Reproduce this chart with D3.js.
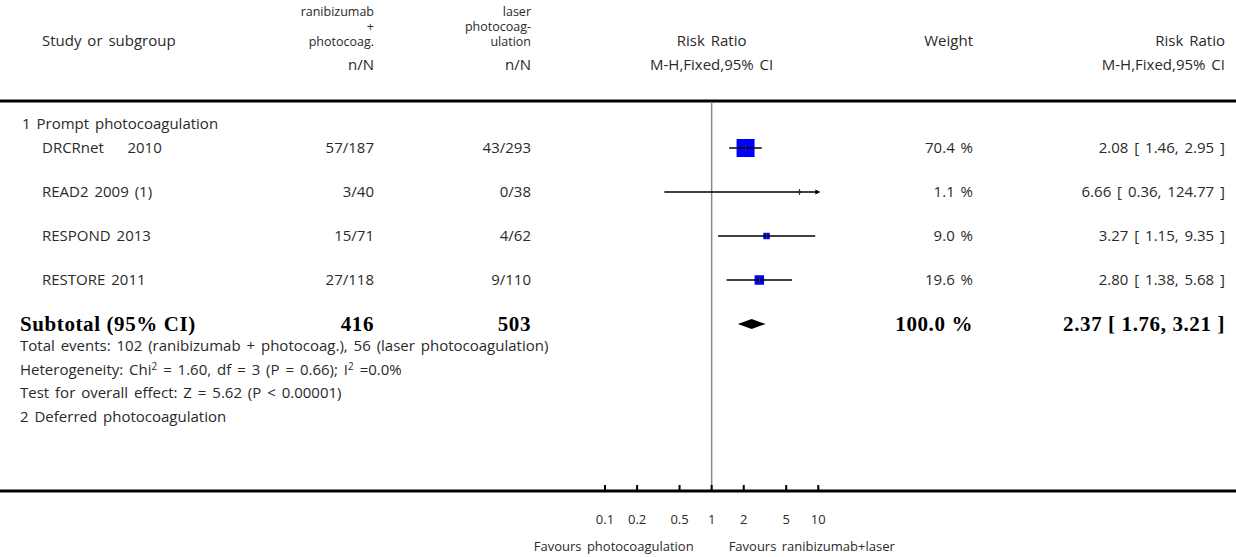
<!DOCTYPE html>
<html>
<head>
<meta charset="utf-8">
<script src="https://cdn.jsdelivr.net/npm/d3@7"></script>
<style>
  body { margin: 0; background: #fff; }
  svg { display: block; }
  text { font-family: "Open Sans", Lato, sans-serif; fill: #2a2a2a; white-space: pre; word-spacing: 2px; }
  .bold { font-family: "Liberation Serif", "Times New Roman", serif; font-weight: bold; fill: #000; letter-spacing: 0.6px; word-spacing: 0; }
</style>
</head>
<body>
<div id="plot"></div>
<script>
// forest plot data
let studies = ["DRCRnet    2010", "READ2 2009 (1)", "RESPOND 2013", "RESTORE 2011"],
    treatEvents = [57, 3, 15, 27],
    treatTotal = [187, 40, 71, 118],
    ctrlEvents = [43, 0, 4, 9],
    ctrlTotal = [293, 38, 62, 110],
    rr = [2.08, 6.66, 3.27, 2.80],
    rrLo = [1.46, 0.36, 1.15, 1.38],
    rrHi = [2.95, 124.77, 9.35, 5.68],
    weights = [70.4, 1.1, 9.0, 19.6],
    subtotal = {rr: 2.37, lo: 1.76, hi: 3.21, n1: 416, n2: 503, weight: 100.0},
    tickValues = [0.1, 0.2, 0.5, 1, 2, 5, 10],
    tickLabels = ["0.1", "0.2", "0.5", "1", "2", "5", "10"],
    treatHead = ["ranibizumab", "+", "photocoag."],
    ctrlHead = ["laser", "photocoag-", "ulation"];

let width = 1236, height = 557,
    col1 = 374, col2 = 531, weightX = 973, ciX = 1225,
    rowY = [148, 192, 236, 280],
    subY = 324,
    fs = 15;

let x = d3.scaleLog().domain([0.1, 10]).range([605, 818.3]);
let side = d3.scaleSqrt().domain([0, 70.4]).range([0, 18]);

const svg = d3.select("#plot").append("svg")
    .attr("width", width).attr("height", height);

function txt(s, xx, yy, anchor, cls, size) {
  return svg.append("text").attr("x", xx).attr("y", yy)
    .attr("text-anchor", anchor || "start")
    .attr("class", cls || null)
    .attr("font-size", size || fs)
    .text(s);
}

// header
txt("Study or subgroup", 42, 46);
treatHead.forEach((s, i) => txt(s, col1, 16 + i * 15, "end", null, 12.5));
ctrlHead.forEach((s, i) => txt(s, col2, 16 + i * 15, "end", null, 12.5));
txt("n/N", col1, 70, "end");
txt("n/N", col2, 70, "end");
txt("Risk Ratio", x(1), 46, "middle");
txt("M-H,Fixed,95% CI", x(1), 70, "middle");
txt("Weight", weightX, 46, "end");
txt("Risk Ratio", ciX, 46, "end");
txt("M-H,Fixed,95% CI", ciX, 70, "end");

svg.append("line").attr("x1", 0).attr("x2", width).attr("y1", 101).attr("y2", 101)
  .attr("stroke", "#000").attr("stroke-width", 3);
svg.append("line").attr("x1", 0).attr("x2", width).attr("y1", 491).attr("y2", 491)
  .attr("stroke", "#000").attr("stroke-width", 3);

// line of no effect
svg.append("line").attr("x1", x(1)).attr("x2", x(1)).attr("y1", 102).attr("y2", 490)
  .attr("stroke", "#888").attr("stroke-width", 1.5);

txt("1 Prompt photocoagulation", 22, 129);

// study rows
studies.forEach((s, i) => {
  let y = rowY[i];
  txt(s, 42, y + 5);
  txt(treatEvents[i] + "/" + treatTotal[i], col1, y + 5, "end");
  txt(ctrlEvents[i] + "/" + ctrlTotal[i], col2, y + 5, "end");
  txt(weights[i].toFixed(1) + " %", weightX, y + 5, "end");
  txt(rr[i].toFixed(2) + " [ " + rrLo[i].toFixed(2) + ", " + rrHi[i].toFixed(2) + " ]", ciX, y + 5, "end");

  let sz = side(weights[i]);
  svg.append("rect").attr("x", x(rr[i]) - sz / 2).attr("y", y - sz / 2)
    .attr("width", sz).attr("height", sz).attr("fill", "#0000ff");
  let lo = Math.max(rrLo[i], 0.1), hi = Math.min(rrHi[i], 10);
  svg.append("line").attr("x1", x(lo)).attr("x2", x(hi)).attr("y1", y).attr("y2", y)
    .attr("stroke", "#000").attr("stroke-width", 1.3);
  svg.append("line").attr("x1", x(rr[i])).attr("x2", x(rr[i])).attr("y1", y - 3).attr("y2", y + 3)
    .attr("stroke", "#333").attr("stroke-width", 1);
  if (rrHi[i] > 10) {
    let ax = x(10);
    svg.append("path").attr("d", `M${ax + 2},${y} L${ax - 3},${y - 2.5} L${ax - 3},${y + 2.5} Z`)
      .attr("fill", "#000");
  }
});

// subtotal
let bs = 21;
txt("Subtotal (95% CI)", 20, subY + 7, "start", "bold", bs);
txt(subtotal.n1, col1, subY + 7, "end", "bold", bs);
txt(subtotal.n2, col2, subY + 7, "end", "bold", bs);
txt(subtotal.weight.toFixed(1) + " %", weightX, subY + 7, "end", "bold", bs);
txt(subtotal.rr.toFixed(2) + " [ " + subtotal.lo.toFixed(2) + ", " + subtotal.hi.toFixed(2) + " ]", ciX, subY + 7, "end", "bold", bs);
svg.append("path")
  .attr("d", `M${x(subtotal.lo)},${subY} L${x(subtotal.rr)},${subY - 5} L${x(subtotal.hi)},${subY} L${x(subtotal.rr)},${subY + 5} Z`)
  .attr("fill", "#000");

txt("Total events: 102 (ranibizumab + photocoag.), 56 (laser photocoagulation)", 20, 351);
let het = txt("Heterogeneity: Chi", 20, 375);
het.append("tspan").attr("dy", -5).attr("font-size", 10).text("2");
het.append("tspan").attr("dy", 5).text(" = 1.60, df = 3 (P = 0.66); I");
het.append("tspan").attr("dy", -5).attr("font-size", 10).text("2");
het.append("tspan").attr("dy", 5).text(" =0.0%");
txt("Test for overall effect: Z = 5.62 (P < 0.00001)", 20, 398);
txt("2 Deferred photocoagulation", 20, 422);

// axis ticks
svg.append("g").selectAll("line").data(tickValues).join("line")
  .attr("x1", d => x(d)).attr("x2", d => x(d)).attr("y1", 485).attr("y2", 490)
  .attr("stroke", "#000").attr("stroke-width", 2);
svg.append("g").selectAll("text").data(tickValues).join("text")
  .attr("x", d => x(d)).attr("y", 524).attr("text-anchor", "middle")
  .attr("font-size", 13).text((d, i) => tickLabels[i]);

txt("Favours photocoagulation", x(1) - 18, 551, "end", null, 13);
txt("Favours ranibizumab+laser", x(1) + 17, 551, "start", null, 13);
</script>
</body>
</html>
